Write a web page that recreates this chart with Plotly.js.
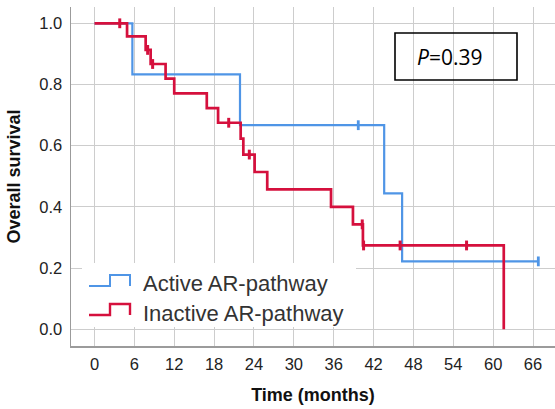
<!DOCTYPE html>
<html>
<head>
<meta charset="utf-8">
<script src="https://cdn.plot.ly/plotly-3.0.1.min.js"></script>
<style>
  html, body { margin: 0; padding: 0; background: #fff; }
  #chart { width: 555px; height: 409px; }
</style>
</head>
<body>
<div id="chart"></div>
<script>
// Kaplan-Meier overall survival by AR-pathway status

// Active AR-pathway: step times (months) and survival after each step
const activeTime = [0, 5.7, 21.9, 43.6, 46.3, 66.8];
const activeSurv = [1.0, 0.833, 0.667, 0.444, 0.222, 0.222];
// Active AR-pathway: censored observations
const activeCensorTime = [39.7, 66.8];
const activeCensorSurv = [0.667, 0.222];

// Inactive AR-pathway: step times (months) and survival after each step
const inactiveTime = [0, 4.9, 7.7, 8.45, 10.7, 12.0, 16.9, 18.6, 22.0, 22.4, 24.1, 26.0, 35.6, 38.9, 40.4, 61.6];
const inactiveSurv = [1.0, 0.957, 0.913, 0.867, 0.819, 0.771, 0.723, 0.675, 0.623, 0.571, 0.514, 0.457, 0.400, 0.343, 0.274, 0.0];
// Inactive AR-pathway: censored observations
const inactiveCensorTime = [3.8, 8.0, 8.75, 20.2, 23.3, 40.3, 40.5, 46.0, 56.0];
const inactiveCensorSurv = [1.0, 0.913, 0.867, 0.675, 0.571, 0.343, 0.274, 0.274, 0.274];

const xTicks = [0, 6, 12, 18, 24, 30, 36, 42, 48, 54, 60, 66];
const yTicks = [0.0, 0.2, 0.4, 0.6, 0.8, 1.0];
const yTickText = ['0.0', '0.2', '0.4', '0.6', '0.8', '1.0'];

const groupNames = ['Active AR-pathway', 'Inactive AR-pathway'];
const pValueText = '<i>P</i>=0.39';

const BLUE = '#4f95e6';
const RED = '#d5103d';

// figure geometry (pixels)
const W = 555, H = 409;
const M = { l: 71, r: 0, t: 7, b: 63 };
const plotW = W - M.l - M.r, plotH = H - M.t - M.b;
const px = x => (x - M.l) / plotW;          // pixel x -> paper x
const py = y => (H - M.b - y) / plotH;      // pixel y -> paper y

const traces = [
  {
    x: activeTime, y: activeSurv, type: 'scatter', mode: 'lines',
    line: { shape: 'hv', color: BLUE, width: 2.2 }, name: groupNames[0], showlegend: false
  },
  {
    x: inactiveTime, y: inactiveSurv, type: 'scatter', mode: 'lines',
    line: { shape: 'hv', color: RED, width: 2.7 }, name: groupNames[1], showlegend: false
  },
  {
    x: activeCensorTime, y: activeCensorSurv, type: 'scatter', mode: 'markers',
    marker: { symbol: 'line-ns', size: 7, line: { color: BLUE, width: 2.8 } }, showlegend: false
  },
  {
    x: inactiveCensorTime, y: inactiveCensorSurv, type: 'scatter', mode: 'markers',
    marker: { symbol: 'line-ns', size: 7, line: { color: RED, width: 3 } }, showlegend: false
  }
];

// legend drawn as a white panel with step-shaped keys
const legBox = { x0: 82, x1: 356, y0: 263, y1: 327 };
const keyPath = (yLow, yHigh) => {
  const a = px(89), b = px(110), c = px(130);
  return `M ${a},${py(yLow)} H ${b} V ${py(yHigh)} H ${c} V ${py(yLow)}`;
};

const shapes = [
  {
    type: 'rect', xref: 'paper', yref: 'paper', layer: 'above',
    x0: px(legBox.x0), x1: px(legBox.x1), y0: py(legBox.y1), y1: py(legBox.y0),
    fillcolor: '#ffffff', line: { width: 0 }
  },
  {
    type: 'path', xref: 'paper', yref: 'paper', layer: 'above',
    path: keyPath(286, 275), line: { color: BLUE, width: 2 }
  },
  {
    type: 'path', xref: 'paper', yref: 'paper', layer: 'above',
    path: keyPath(315, 304), line: { color: RED, width: 2.4 }
  },
  {
    type: 'rect', xref: 'paper', yref: 'paper', layer: 'above',
    x0: px(395), x1: px(517), y0: py(80), y1: py(33),
    fillcolor: 'rgba(0,0,0,0)', line: { color: '#000', width: 1.6 }
  }
];

const annotations = [
  {
    xref: 'paper', yref: 'paper', x: px(141), y: py(283), xanchor: 'left', yanchor: 'middle',
    text: groupNames[0], showarrow: false,
    font: { family: 'Liberation Sans, Arial, sans-serif', size: 22, color: '#333' }
  },
  {
    xref: 'paper', yref: 'paper', x: px(141), y: py(313), xanchor: 'left', yanchor: 'middle',
    text: groupNames[1], showarrow: false,
    font: { family: 'Liberation Sans, Arial, sans-serif', size: 22, color: '#333' }
  },
  {
    xref: 'paper', yref: 'paper', x: px(449), y: py(57), xanchor: 'center', yanchor: 'middle',
    text: pValueText, showarrow: false,
    font: { family: 'Open Sans, Noto Sans, sans-serif', size: 21, color: '#000' }
  }
];

const layout = {
  width: W, height: H,
  margin: M,
  paper_bgcolor: '#fff', plot_bgcolor: '#fff',
  font: { family: 'Liberation Sans, Arial, sans-serif', color: '#222' },
  showlegend: false,
  xaxis: {
    range: [(M.l - 94.5) / 6.644, (W - M.r - 94.5) / 6.644],
    tickmode: 'array', tickvals: xTicks, ticktext: xTicks.map(String),
    tickfont: { size: 16.5, color: '#222' },
    ticks: 'outside', ticklen: 3, tickcolor: 'rgba(0,0,0,0)',
    showgrid: true, gridcolor: '#cdcdcd', gridwidth: 1,
    zeroline: false, showline: true, linecolor: '#9b9b9b', linewidth: 1.5,
    title: { text: 'Time (months)', font: { size: 18, weight: 'bold', color: '#111' }, standoff: 16 },
    fixedrange: true
  },
  yaxis: {
    range: [(329.3 - (H - M.b)) / 306, (329.3 - M.t) / 306],
    tickmode: 'array', tickvals: yTicks, ticktext: yTickText,
    tickfont: { size: 16.5, color: '#222' },
    ticks: 'outside', ticklen: 4, tickcolor: 'rgba(0,0,0,0)',
    showgrid: true, gridcolor: '#cdcdcd', gridwidth: 1,
    zeroline: false, showline: true, linecolor: '#9b9b9b', linewidth: 1.5,
    title: { text: 'Overall survival', font: { size: 18, weight: 'bold', color: '#111' }, standoff: 14 },
    fixedrange: true
  },
  shapes: shapes,
  annotations: annotations
};

Plotly.newPlot('chart', traces, layout, { staticPlot: true, displayModeBar: false });
</script>
</body>
</html>
